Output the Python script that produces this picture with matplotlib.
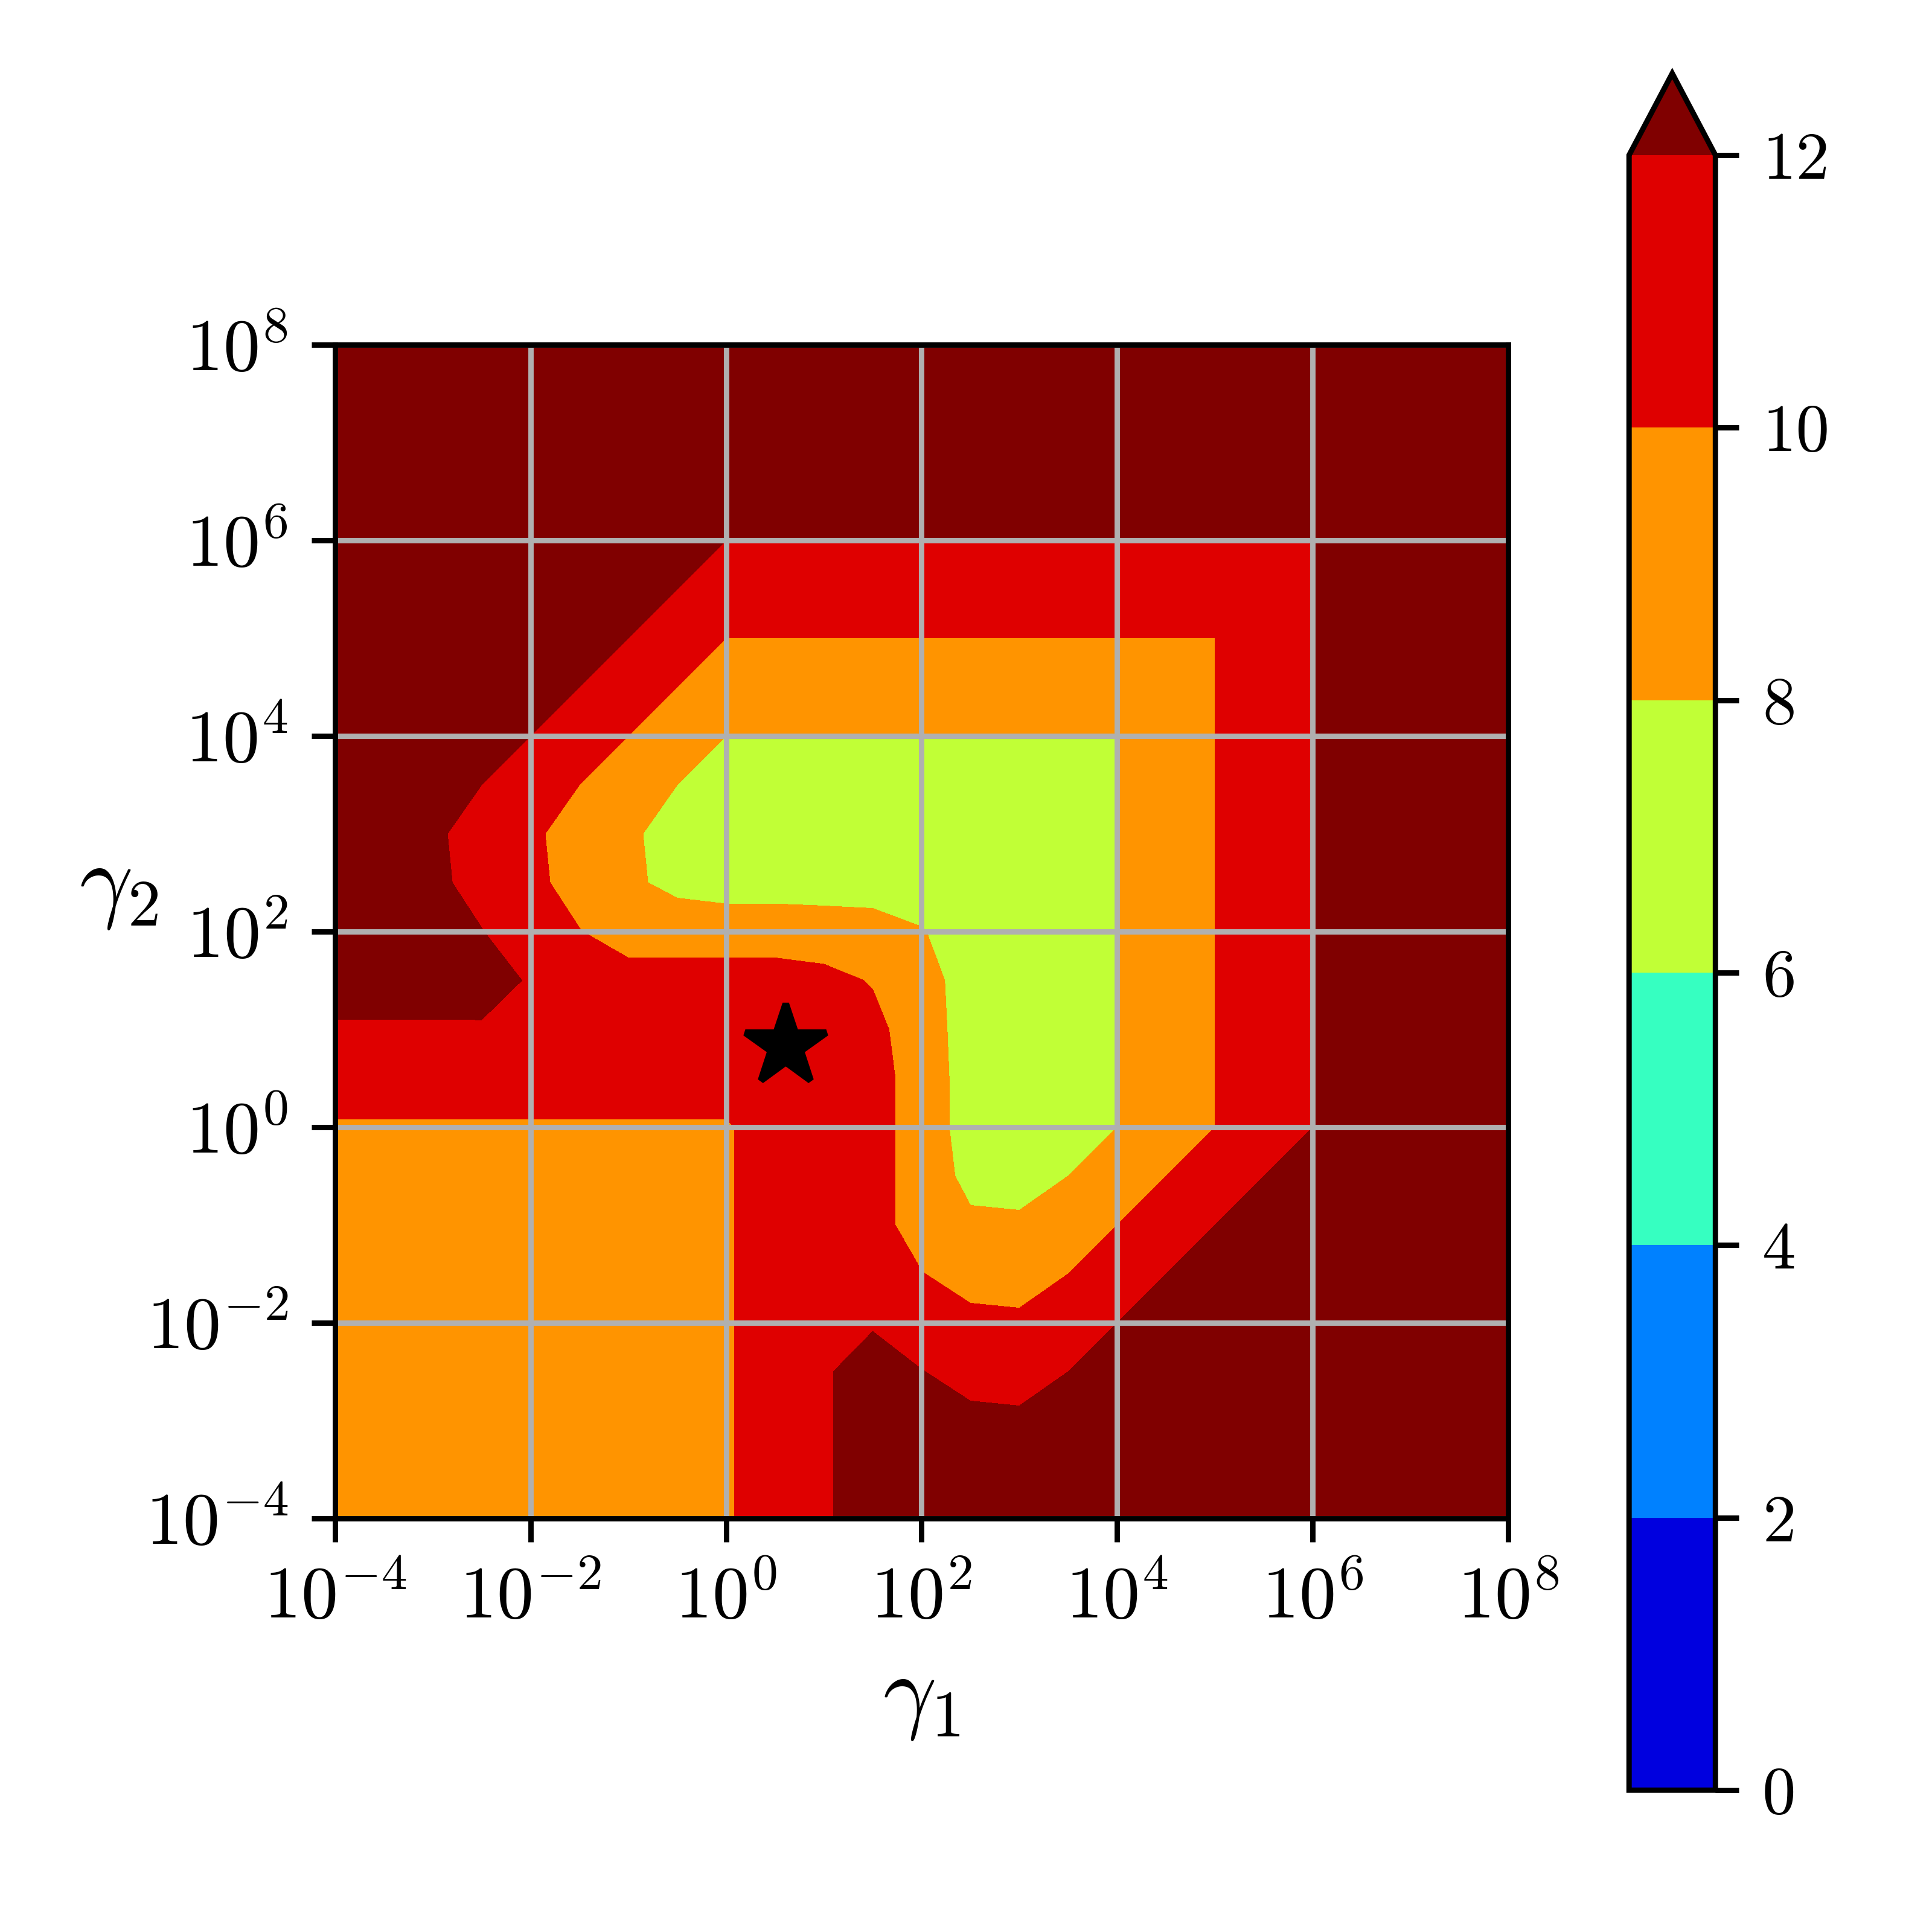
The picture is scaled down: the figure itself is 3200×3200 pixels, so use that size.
import numpy as np
import matplotlib
matplotlib.use("Agg")
import matplotlib.pyplot as plt

plt.rcParams["font.family"] = "serif"
plt.rcParams["font.serif"] = ["cmr10"]
plt.rcParams["mathtext.fontset"] = "cm"
plt.rcParams["axes.formatter.use_mathtext"] = True
plt.rcParams["font.size"] = 10

# grid of exponents: log10(gamma1) (columns) and log10(gamma2) (rows)
log_gamma1 = [-4.0, -3.5, -3.0, -2.5, -2.0, -1.5, -1.0, -0.5, 0.0, 0.5, 1.0, 1.5, 2.0,
              2.5, 3.0, 3.5, 4.0, 4.5, 5.0, 5.5, 6.0, 6.5, 7.0, 7.5, 8.0]
log_gamma2 = [-4.0, -3.5, -3.0, -2.5, -2.0, -1.5, -1.0, -0.5, 0.0, 0.5, 1.0, 1.5, 2.0,
              2.5, 3.0, 3.5, 4.0, 4.5, 5.0, 5.5, 6.0, 6.5, 7.0, 7.5, 8.0]

# value (row = gamma2 exponent, column = gamma1 exponent)
values = [
    [9, 9, 9, 9, 9, 9, 9, 9, 9.8, 11, 11.07, 15.74, 15.05, 14.4, 14.3, 15, 16, 17, 18, 19, 20, 21, 22, 23, 24],
    [9, 9, 9, 9, 9, 9, 9, 9, 9.8, 11, 11.32, 14.74, 14.05, 13.4, 13.3, 14, 15, 16, 17, 18, 19, 20, 21, 22, 23],
    [9, 9, 9, 9, 9, 9, 9, 9, 9.8, 11, 11.57, 13.74, 13.05, 12.4, 12.3, 13, 14, 15, 16, 17, 18, 19, 20, 21, 22],
    [9, 9, 9, 9, 9, 9, 9, 9, 9.8, 11, 11.82, 12.74, 12.05, 11.4, 11.3, 12, 13, 14, 15, 16, 17, 18, 19, 20, 21],
    [9, 9, 9, 9, 9, 9, 9, 9, 9.8, 11, 11.5, 11.84, 11.05, 10.4, 10.3, 11, 12, 13, 14, 15, 16, 17, 18, 19, 20],
    [9, 9, 9, 9, 9, 9, 9, 9, 9.8, 11, 11, 10.74, 10.05, 9.4, 9.3, 10, 11, 12, 13, 14, 15, 16, 17, 18, 19],
    [9, 9, 9, 9, 9, 9, 9, 9, 9.8, 11, 11, 10.6, 9.3, 8.4, 8.3, 9, 10, 11, 12, 13, 14, 15, 16, 17, 18],
    [9, 9, 9, 9, 9, 9, 9, 9, 9.8, 11, 11, 10.6, 9.3, 7.4, 7.3, 8, 9, 10, 11, 12, 13, 14, 15, 16, 17],
    [9.8, 9.8, 9.8, 9.8, 9.8, 9.8, 9.8, 9.8, 9.8, 11, 11, 10.6, 9.3, 7, 7, 7, 8, 9, 10, 11, 12, 13, 14, 15, 16],
    [11, 11, 11, 11, 11, 11, 11, 11, 11, 11, 11, 10.6, 9.3, 7, 7, 7, 8, 9, 10, 11, 12, 13, 14, 15, 16],
    [11.07, 11.32, 11.57, 11.82, 11.5, 11, 11, 11, 11, 11, 11, 10.45, 9.1, 7, 7, 7, 8, 9, 10, 11, 12, 13, 14, 15, 16],
    [15.74, 14.74, 13.74, 12.74, 11.84, 10.74, 10.6, 10.6, 10.6, 10.6, 10.45, 9.9, 8.9, 7, 7, 7, 8, 9, 10, 11, 12, 13, 14, 15, 16],
    [15.05, 14.05, 13.05, 12.05, 11.05, 10.05, 9.3, 9.3, 9.3, 9.3, 9.1, 8.9, 8.11, 7, 7, 7, 8, 9, 10, 11, 12, 13, 14, 15, 16],
    [14.4, 13.4, 12.4, 11.4, 10.4, 9.4, 8.4, 7.4, 7, 7, 7, 7, 7, 7, 7, 7, 8, 9, 10, 11, 12, 13, 14, 15, 16],
    [14.3, 13.3, 12.3, 11.3, 10.3, 9.3, 8.3, 7.3, 7, 7, 7, 7, 7, 7, 7, 7, 8, 9, 10, 11, 12, 13, 14, 15, 16],
    [15, 14, 13, 12, 11, 10, 9, 8, 7, 7, 7, 7, 7, 7, 7, 7, 8, 9, 10, 11, 12, 13, 14, 15, 16],
    [16, 15, 14, 13, 12, 11, 10, 9, 8, 8, 8, 8, 8, 8, 8, 8, 8, 9, 10, 11, 12, 13, 14, 15, 16],
    [17, 16, 15, 14, 13, 12, 11, 10, 9, 9, 9, 9, 9, 9, 9, 9, 9, 9, 10, 11, 12, 13, 14, 15, 16],
    [18, 17, 16, 15, 14, 13, 12, 11, 10, 10, 10, 10, 10, 10, 10, 10, 10, 10, 10, 11, 12, 13, 14, 15, 16],
    [19, 18, 17, 16, 15, 14, 13, 12, 11, 11, 11, 11, 11, 11, 11, 11, 11, 11, 11, 11, 12, 13, 14, 15, 16],
    [20, 19, 18, 17, 16, 15, 14, 13, 12, 12, 12, 12, 12, 12, 12, 12, 12, 12, 12, 12, 12, 13, 14, 15, 16],
    [21, 20, 19, 18, 17, 16, 15, 14, 13, 13, 13, 13, 13, 13, 13, 13, 13, 13, 13, 13, 13, 13, 14, 15, 16],
    [22, 21, 20, 19, 18, 17, 16, 15, 14, 14, 14, 14, 14, 14, 14, 14, 14, 14, 14, 14, 14, 14, 14, 15, 16],
    [23, 22, 21, 20, 19, 18, 17, 16, 15, 15, 15, 15, 15, 15, 15, 15, 15, 15, 15, 15, 15, 15, 15, 15, 16],
    [24, 23, 22, 21, 20, 19, 18, 17, 16, 16, 16, 16, 16, 16, 16, 16, 16, 16, 16, 16, 16, 16, 16, 16, 16],
]

levels = [0, 2, 4, 6, 8, 10, 12]
tick_exponents = [-4, -2, 0, 2, 4, 6, 8]
tick_labels = [r"$10^{-4}$", r"$10^{-2}$", r"$10^{0}$", r"$10^{2}$",
               r"$10^{4}$", r"$10^{6}$", r"$10^{8}$"]
star_gamma1 = 4.04
star_gamma2 = 6.8

fig = plt.figure(figsize=(4, 4), dpi=800)
ax = fig.add_axes([0.1734, 0.2141, 0.6072, 0.6075])
cax = fig.add_axes([0.8432, 0.0734, 0.0447, 0.8886])

Z = np.array(values, dtype=float)
cs = ax.contourf(log_gamma1, log_gamma2, Z, levels=levels, cmap="jet", extend="max")
ax.grid(True)
ax.plot([np.log10(star_gamma1)], [np.log10(star_gamma2)], marker="*",
        color="black", markersize=12.6, linestyle="none")

ax.set_xlim(-4, 8)
ax.set_ylim(-4, 8)
ax.set_xticks(tick_exponents)
ax.set_xticklabels(tick_labels)
ax.set_yticks(tick_exponents)
ax.set_yticklabels(tick_labels)
ax.tick_params(labelsize=11)
ax.set_xlabel(r"$\gamma_1$", fontsize=14)
ax.set_ylabel(r"$\gamma_2$", fontsize=14, rotation=0)

cb = fig.colorbar(cs, cax=cax)
cb.set_ticks(levels)
cb.set_ticklabels([str(l) for l in levels])
cb.ax.tick_params(labelsize=10)

fig.savefig("out.png", dpi=800)
